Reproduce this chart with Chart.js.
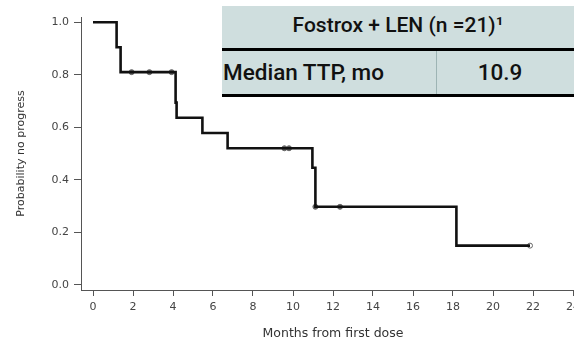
<!DOCTYPE html>
<html lang="en">
<head>
    <meta charset="UTF-8">
    <title>Time to progression - Fostrox + LEN</title>
    <script src="https://cdn.jsdelivr.net/npm/chart.js"></script>
    <style>
        html, body {
            margin: 0;
            padding: 0;
            background: #fff;
            overflow: hidden;
            width: 574px;
            height: 341px;
        }

        .chart-wrap {
            position: absolute;
            left: 0;
            top: 0;
            width: 600px;
            height: 341px;
        }

        /* summary table in top right corner */
        .ttp-table {
            position: absolute;
            left: 222px;
            top: 6px;
            width: 352px;
            background: #cfdede;
            font-family: Roboto, 'Noto Sans', sans-serif;
            font-weight: 500;
            color: #111;
        }

        .ttp-table .hd {
            height: 42px;
            line-height: 38px;
            font-size: 21px;
            text-align: center;
            border-bottom: 3px solid #000;
        }

        .ttp-table .row {
            display: flex;
            height: 43px;
            line-height: 43px;
            font-size: 22.5px;
            border-bottom: 3px solid #000;
        }

        .ttp-table .c1 {
            width: 213px;
            padding-left: 1px;
            border-right: 1px solid #9db4b4;
        }

        .ttp-table .c2 {
            width: 126px;
            text-align: center;
        }
    </style>
</head>
<body>
    <div class="chart-wrap">
        <canvas id="kmChart" width="600" height="341"></canvas>
    </div>

    <div class="ttp-table">
        <div class="hd">Fostrox + LEN (n =21)¹</div>
        <div class="row">
            <div class="c1">Median TTP, mo</div>
            <div class="c2">10.9</div>
        </div>
    </div>

    <script>
        // Kaplan-Meier steps (months, probability no progress)
        const kmMonths = [0, 1.18, 1.38, 4.13, 4.18, 5.47, 6.73, 10.97, 11.12, 18.17, 21.85];
        const kmSurv = [1.0, 0.905, 0.81, 0.694, 0.636, 0.578, 0.52, 0.446, 0.297, 0.149, 0.149];

        // censored patients
        const censorMonths = [1.93, 2.82, 3.93, 9.57, 9.8, 11.12, 12.35, 21.85];
        const censorSurv = [0.81, 0.81, 0.81, 0.52, 0.52, 0.297, 0.297, 0.149];

        const xTicks = [0, 2, 4, 6, 8, 10, 12, 14, 16, 18, 20, 22, 24];
        const yTicks = [0, 0.2, 0.4, 0.6, 0.8, 1.0];

        const kmPoints = kmMonths.map((m, i) => ({ x: m, y: kmSurv[i] }));
        const censorPoints = censorMonths.map((m, i) => ({ x: m, y: censorSurv[i] }));
        const censorFill = censorMonths.map((m, i) => i === censorMonths.length - 1 ? '#fff' : '#666');

        const axisColor = '#555';
        const tickFont = { family: 'DejaVu Sans', size: 11 };

        const ctx = document.getElementById('kmChart').getContext('2d');
        new Chart(ctx, {
            type: 'line',
            data: {
                datasets: [
                    {
                        label: 'KM',
                        data: kmPoints,
                        borderColor: '#111',
                        borderWidth: 2.6,
                        stepped: true,
                        pointRadius: 0,
                        fill: false
                    },
                    {
                        label: 'Censored',
                        data: censorPoints,
                        showLine: false,
                        pointRadius: 2.5,
                        pointBackgroundColor: censorFill,
                        pointBorderColor: '#666',
                        pointBorderWidth: 1
                    }
                ]
            },
            options: {
                responsive: false,
                animation: false,
                layout: {
                    padding: { left: 0, top: 17, right: 15, bottom: 0 }
                },
                plugins: {
                    legend: { display: false },
                    tooltip: { enabled: false }
                },
                scales: {
                    x: {
                        type: 'linear',
                        min: -0.6,
                        max: 24.6,
                        afterBuildTicks: s => { s.ticks = xTicks.map(v => ({ value: v })); },
                        afterFit: s => { s.height = 51; },
                        grid: { drawOnChartArea: false, tickLength: 6, color: axisColor },
                        border: { color: axisColor, width: 1 },
                        ticks: {
                            color: '#444',
                            font: tickFont,
                            padding: 5,
                            maxRotation: 0,
                            callback: v => v
                        },
                        title: {
                            display: true,
                            text: 'Months from first dose',
                            color: '#333',
                            font: { family: 'DejaVu Sans', size: 12.5 },
                            padding: { top: 0, bottom: 0 }
                        }
                    },
                    y: {
                        min: -0.02,
                        max: 1.02,
                        afterBuildTicks: s => { s.ticks = yTicks.map(v => ({ value: v })); },
                        afterFit: s => { s.width = 81; },
                        grid: { drawOnChartArea: false, tickLength: 7, color: axisColor },
                        border: { color: axisColor, width: 1 },
                        ticks: {
                            color: '#444',
                            font: tickFont,
                            padding: 5,
                            callback: v => v.toFixed(1)
                        },
                        title: {
                            display: true,
                            text: 'Probability no progress',
                            color: '#333',
                            font: { family: 'DejaVu Sans', size: 11 },
                            padding: { top: 15, bottom: 0 }
                        }
                    }
                }
            }
        });
    </script>
</body>
</html>
